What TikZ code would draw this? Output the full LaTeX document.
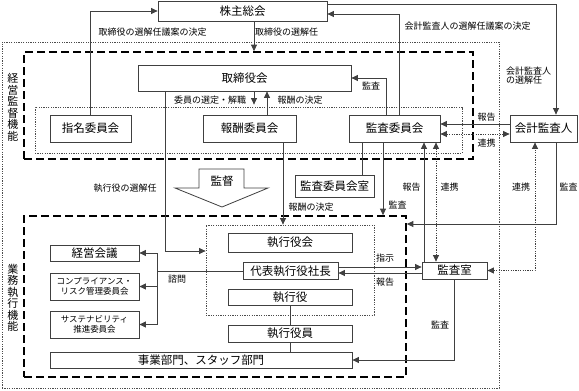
\documentclass[tikz,border=0pt]{standalone}
\usepackage{fontspec}
\setmainfont{Noto Sans CJK JP}
\usetikzlibrary{arrows.meta}

\begin{document}
\begin{tikzpicture}[
    x=1pt,y=-1pt,
    every node/.style={font=\fontsize{11.5}{12}\selectfont, inner sep=1pt},
    box/.style={draw=black!75, line width=0.8pt, fill=white},
    note/.style={font=\fontsize{9}{9.5}\selectfont},
    small/.style={font=\fontsize{8.5}{10.5}\selectfont, align=center},
    tag/.style={font=\fontsize{11}{11.5}\selectfont, align=center},
    frame/.style={draw=black, line width=1.7pt, dash pattern=on 8pt off 4pt},
    dotframe/.style={draw=black!70, line width=0.8pt, dash pattern=on 1.2pt off 1.2pt},
    link/.style={draw=black!75, line width=0.8pt},
    arr/.style={link, -{Triangle[length=6.5pt,width=6pt]}},
    dlink/.style={link, dash pattern=on 1.2pt off 1.2pt, {Triangle[length=6.5pt,width=6pt]}-{Triangle[length=6.5pt,width=6pt]}}
]
    \useasboundingbox (0,0) rectangle (579,391);

    \node[dotframe, minimum width=497pt, minimum height=346pt] (outer) at (250.5,215) {};
    \node[frame, minimum width=449pt, minimum height=107pt] (supv) at (248.5,105.5) {};
    \node[dotframe, minimum width=427pt, minimum height=46pt] (commit) at (248.5,130) {};
    \node[frame, minimum width=382pt, minimum height=161pt] (exec) at (215,296.5) {};
    \node[dotframe, minimum width=168pt, minimum height=90pt] (execin) at (290,270) {};

    \node[tag] (supvtag) at (13,107.5) {経\\営\\監\\督\\機\\能};
    \node[tag] (exectag) at (13,298) {業\\務\\執\\行\\機\\能};

    \node[box, minimum width=169pt, minimum height=20pt] (soukai) at (242.5,11) {株主総会};
    \node[box, minimum width=213pt, minimum height=26pt] (torishimari) at (244.5,78) {取締役会};
    \node[box, minimum width=81pt, minimum height=27pt] (shimei) at (90.5,128.5) {指名委員会};
    \node[box, minimum width=93pt, minimum height=27pt] (houshu) at (249.5,128.5) {報酬委員会};
    \node[box, minimum width=91pt, minimum height=27pt] (kansa) at (394.5,128.5) {監査委員会};
    \node[box, minimum width=79pt, minimum height=22pt] (kansaroom) at (334.5,186) {監査委員会室};
    \node[box, minimum width=67pt, minimum height=27pt] (kaikei) at (543.5,128.5) {会計監査人};

    \node[box, minimum width=124pt, minimum height=19pt] (shikkoukai) at (290,242.5) {執行役会};
    \node[box, minimum width=95pt, minimum height=17pt] (shachou) at (290.5,271) {代表執行役社長};
    \node[box, minimum width=124pt, minimum height=16pt] (shikkouyaku) at (290,297) {執行役};
    \node[box, minimum width=124pt, minimum height=17pt] (yakuin) at (290,333.5) {執行役員};
    \node[box, minimum width=302pt, minimum height=16pt] (jigyou) at (201,360) {事業部門、スタッフ部門};
    \node[box, minimum width=89pt, minimum height=16pt] (keiei) at (94.5,253) {経営会議};
    \node[box, small, minimum width=89pt, minimum height=27pt] (compliance) at (94.5,286.5) {コンプライアンス・\\リスク管理委員会};
    \node[box, small, minimum width=89pt, minimum height=27pt] (sustain) at (94.5,324.5) {サステナビリティ\\推進委員会};
    \node[box, minimum width=65pt, minimum height=17pt] (kansashitsu) at (454.5,270.5) {監査室};

    \draw[link, fill=white] (199,169) -- (244,169) -- (244,188) -- (268,188) -- (222,207) -- (175,188) -- (199,188) -- cycle;
    \node (kantoku) at (222,181) {監督};

    \draw[arr] (shimei.north) |- (soukai.west);
    \draw[arr] ([xshift=11.5pt]soukai.south) -- ([xshift=11.5pt]soukai.south |- supv.north);
    \draw[arr] ([xshift=4.5pt]kansa.north) |- ([yshift=-3pt]soukai.east);
    \draw[arr] ([yshift=7pt]soukai.east) -| ([xshift=12.5pt]kaikei.north);
    \draw[arr] ([xshift=-8.5pt]kansa.north) |- (torishimari.east);
    \draw[arr, shorten >=2pt] ([xshift=9.5pt]torishimari.south) -- ([xshift=9.5pt]torishimari.south |- commit.north);
    \draw[arr] ([xshift=17.5pt]houshu.north) -- ([xshift=17.5pt]houshu.north |- torishimari.south);
    \draw[arr] ([xshift=-79.5pt]torishimari.south) |- ([yshift=19pt]execin.west);
    \draw[arr] ([xshift=33.5pt]houshu.south) -- ([xshift=33.5pt]houshu.south |- execin.north);
    \draw[link] ([xshift=-32.5pt]kansa.south) -- ([xshift=-32.5pt]kansa.south |- kansaroom.north);
    \draw[arr] ([xshift=-11.5pt]kansa.south) -- ([xshift=-11.5pt]kansa.south |- exec.north);
    \draw[arr] ([xshift=-30.5pt]kansashitsu.north) -- ([xshift=-30.5pt]kansashitsu.north |- kansa.south);
    \draw[dlink] ([xshift=-18.5pt]kansashitsu.north) -- ([xshift=-18.5pt]kansashitsu.north |- kansa.south);
    \draw[arr] ([yshift=4.5pt]kaikei.west) -- ([yshift=4.5pt]kaikei.west -| kansa.east);
    \draw[dlink] ([yshift=-5.5pt]kansa.east) -- ([yshift=-5.5pt]kansa.east -| kaikei.west);
    \draw[dlink] (kansashitsu.east) -| ([xshift=-8.5pt]kaikei.south);
    \draw[arr] ([xshift=12.5pt]kaikei.south) |- ([yshift=72.5pt]exec.east);
    \draw[arr] ([yshift=4pt]shachou.east) -- ([yshift=4pt]shachou.east -| kansashitsu.west);
    \draw[arr] ([yshift=-2.5pt]kansashitsu.west) -- ([yshift=-2.5pt]kansashitsu.west -| shachou.east);
    \draw[arr] (kansashitsu.south) |- (jigyou.east);
    \draw[link] (shikkouyaku.south) -- (yakuin.north) (yakuin.south) -- (yakuin.south |- jigyou.north);

    \coordinate (fork) at (157,271);
    \draw[link] (shachou.west) -- (fork);
    \draw[link] (keiei.east -| fork) -- (sustain.east -| fork);
    \foreach \n in {keiei,compliance,sustain} {
        \draw[arr] (\n.east -| fork) -- (\n.east);
    }

    \node[note] (l1) at (152.5,32) {取締役の選解任議案の決定};
    \node[note] (l2) at (286.5,32) {取締役の選解任};
    \node[note] (l3) at (467.5,26) {会計監査人の選解任議案の決定};
    \node[note, align=left, anchor=west] (l4) at (505,75.5) {会計監査人\\の選解任};
    \node[note] (l5) at (371,86) {監査};
    \node[note] (l6) at (210,100) {委員の選定・解職};
    \node[note] (l7) at (300,100) {報酬の決定};
    \node[note] (l8) at (125,188) {執行役の選解任};
    \node[note] (l9) at (311,207.5) {報酬の決定};
    \node[note] (l10) at (397.5,205) {監査};
    \node[note] (l11) at (486.5,117) {報告};
    \node[note] (l12) at (486.5,143) {連携};
    \node[note] (l13) at (411.5,187) {報告};
    \node[note] (l14) at (449.5,187) {連携};
    \node[note] (l15) at (521,187) {連携};
    \node[note] (l16) at (568.5,187) {監査};
    \node[note] (l17) at (385,258) {指示};
    \node[note] (l18) at (385,282) {報告};
    \node[note] (l19) at (177,279) {諮問};
    \node[note] (l20) at (440,325) {監査};
\end{tikzpicture}
\end{document}
